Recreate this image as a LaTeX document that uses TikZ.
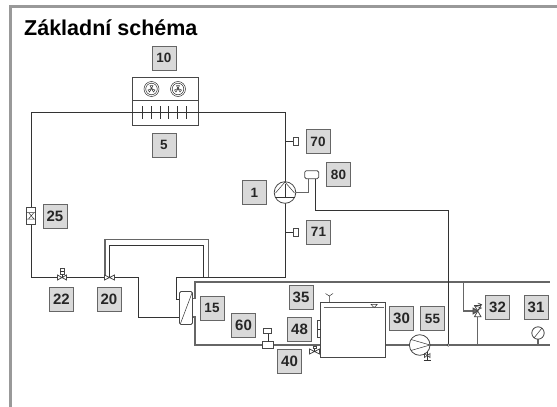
\documentclass[tikz,border=0pt]{standalone}
\usepackage{fontspec}
\setmainfont{Liberation Sans}
\tikzset{
  lab/.style={draw=black!60,line width=1pt,fill=black!15,minimum width=24pt,minimum height=24pt,inner sep=0pt,font=\bfseries\fontsize{15}{15}\selectfont,text=black!85},
  labs/.style={lab,font=\bfseries\fontsize{13.5}{14}\selectfont},
  pipe/.style={draw=black!80,line width=0.9pt},
  wpipe/.style={draw=black!60,line width=1.05pt},
  thin/.style={draw=black!80,line width=0.5pt},
  part/.style={draw=black!72,line width=0.8pt,fill=white}
}
\begin{document}
\begin{tikzpicture}[x=1pt,y=-1pt]
\useasboundingbox (0,0) rectangle (557,407);
\fill[white] (0,0) rectangle (557,407);
\fill[black!40] (9,5) rectangle (557,8);
\fill[black!40] (9,5) rectangle (12,407);
\node[anchor=base west,inner sep=0pt,font=\bfseries\fontsize{21.5}{22}\selectfont] (title) at (24,35) {Základní schéma};
% labels
\node[labs] (n10) at (164,58) {10};
\node[labs] (n5) at (164,145) {5};
\node[labs] (n1) at (254.5,192.5) {1};
\node[labs] (n70) at (318,141.5) {70};
\node[labs] (n80) at (338.5,174.5) {80};
\node[labs] (n71) at (318.5,232) {71};
\node[lab] (n25) at (55,216) {25};
\node[lab] (n22) at (61.5,299.5) {22};
\node[lab] (n20) at (109,299.5) {20};
\node[labs] (n15) at (212,308) {15};
\node[lab] (n60) at (243.5,325) {60};
\node[lab] (n40) at (289.5,361) {40};
\node[lab] (n35) at (301,297.5) {35};
\node[lab] (n48) at (299.5,329.5) {48};
\node[lab] (n30) at (401.5,318.5) {30};
\node[labs] (n55) at (432.5,318.5) {55};
\node[lab] (n32) at (497.5,307.5) {32};
\node[lab] (n31) at (536,307.5) {31};
% refrigerant loop
\draw[pipe] (180,317) -- (138.5,317) -- (138.5,277.5) -- (31.5,277.5) -- (31.5,112.5) -- (285,112.5) -- (285,277.5) -- (176.7,277.5) -- (176.7,299) -- (180,299);
\draw[wpipe] (105,277) -- (105,239.5) -- (208.7,239.5) -- (208.7,277);
\draw[pipe] (109.5,277) -- (109.5,245.5) -- (203.7,245.5) -- (203.7,277);
% condenser
\draw[part] (132,77) rectangle (198,125);
\draw[part] (132,100.5) -- (198,100.5);
\draw[pipe,line width=1.1pt] (111,112.5) -- (221,112.5);
\foreach \x in {142,151,160,168.5,177,186} \draw[thin] (\x,106) -- (\x,119);
\foreach \x in {151.5,178} {
  \draw[thin] (\x,89) circle (7.5);
  \draw[thin] (\x,89) circle (5.8);
  \draw[thin] (\x,88.5) -- ++(-1.5,-3) -- ++(3,0) -- cycle;
  \draw[thin] (\x,88.5) -- ++(-3.5,1.5) -- ++(1.5,2) -- cycle;
  \draw[thin] (\x,88.5) -- ++(3.5,1.5) -- ++(-1.5,2) -- cycle;
}
% filter 25
\draw[part] (26.7,207) rectangle (35.7,224);
\draw[thin] (26.7,212.5) -- (35.7,212.5) (26.7,219) -- (35.7,219) (28.5,212.5) -- (34,219) (28.5,219) -- (34,212.5);
% valves
\draw[part] (57.5,275) -- (66.5,280) -- (66.5,275) -- (57.5,280) -- cycle;
\draw[thin] (62,277.5) -- (62,274);
\draw[part] (60,268) rectangle (64,274);
\draw[thin] (60,271) -- (64,271);
\draw[part] (104.5,275) -- (114.5,280) -- (114.5,275) -- (104.5,280) -- cycle;
% heat exchanger
\draw[part,rounded corners=1.5pt] (179.5,291.5) rectangle (192.5,324.5);
\draw[thin] (180.5,323.5) -- (192,293);
\draw[wpipe] (192.5,298.5) -- (195,298.5) -- (195,282) -- (550,282);
\draw[wpipe] (192.5,317) -- (195,317) -- (195,345) -- (320.7,345);
\draw[wpipe] (385.7,345) -- (550,345);
% sensors
\draw[thin] (285,141.5) -- (293,141.5);
\draw[part] (293,137.5) rectangle (298,145.5);
\draw[thin] (285,232) -- (293,232);
\draw[part] (293,228) rectangle (298,236);
% compressor
\draw[part] (285,192.5) circle (10.8);
\draw[thin] (285,184) -- (285,197) (275,197) -- (295,197);
\draw[thin] (275.5,193) -- (285,182) -- (294.5,193);
\draw[wpipe] (295.8,192.7) -- (308.3,192.7) -- (308.3,178.5);
\draw[part,rounded corners=1.5pt] (304.7,170.7) rectangle (318.7,178.7);
\draw[thin,line width=0.8pt] (315.7,178.7) -- (315.7,210.7) -- (448.3,210.7) -- (448.3,345);
\draw[thin,fill=white] (448.3,345) circle (1.3);
% tank
\draw[part] (320.7,302.3) rectangle (385.7,357.3);
\draw[wpipe] (323.5,307.7) -- (383.5,307.7);
\draw[thin,fill=white] (371,304.3) -- (377.3,304.3) -- (374.1,307.7) -- cycle;
\draw[thin] (329.3,302.3) -- (329.3,296) (325.5,293.5) -- (329.3,296) -- (333,293.5);
\draw[part] (317.7,320.7) rectangle (320.7,337.5);
\draw[thin] (317.7,329) -- (320.7,329);
% valve 40
\draw[part,fill=white] (262.3,341.7) rectangle (273.3,348);
\draw[thin] (268,341.7) -- (268,333);
\draw[part] (263.5,328) rectangle (271.7,333);
% drain valve
\draw[part] (309.5,349) -- (319.5,354) -- (319.5,349) -- (309.5,354) -- cycle;
\draw[thin] (314.5,351.5) -- (314.5,348);
\draw[part] (313,346.5) rectangle (316,348.5);
% pump
\draw[part] (419.7,345) circle (10.3);
\draw[thin] (411,339.5) -- (430,345) -- (411,350.5);
\draw[thin] (427.3,352) -- (427.3,360.5) (423.5,360.5) -- (431,360.5);
\draw[part,line width=0.6pt] (424.5,353.5) -- (430,357.5) -- (430,353.5) -- (424.5,357.5) -- cycle;
% safety valve
\draw[wpipe] (463.5,282) -- (463.5,311) -- (473,311);
\draw[wpipe] (477.7,345) -- (477.7,316.7);
\draw[part] (474.5,316.7) -- (481,316.7) -- (477.7,311) -- cycle;
\draw[part] (474.5,305.5) -- (481,305.5) -- (477.7,311) -- cycle;
\draw[part,fill=black!60] (473,308) -- (477.7,311) -- (473,314) -- cycle;
\draw[thin] (477.7,303) -- (481.5,304.5) -- (475,306) -- (481.5,308) -- (477.7,310);
% manometer
\draw[wpipe] (538,345) -- (538,339);
\draw[part] (538,333) circle (6.2);
\draw[thin] (534,338) -- (542,328);
\end{tikzpicture}
\end{document}
